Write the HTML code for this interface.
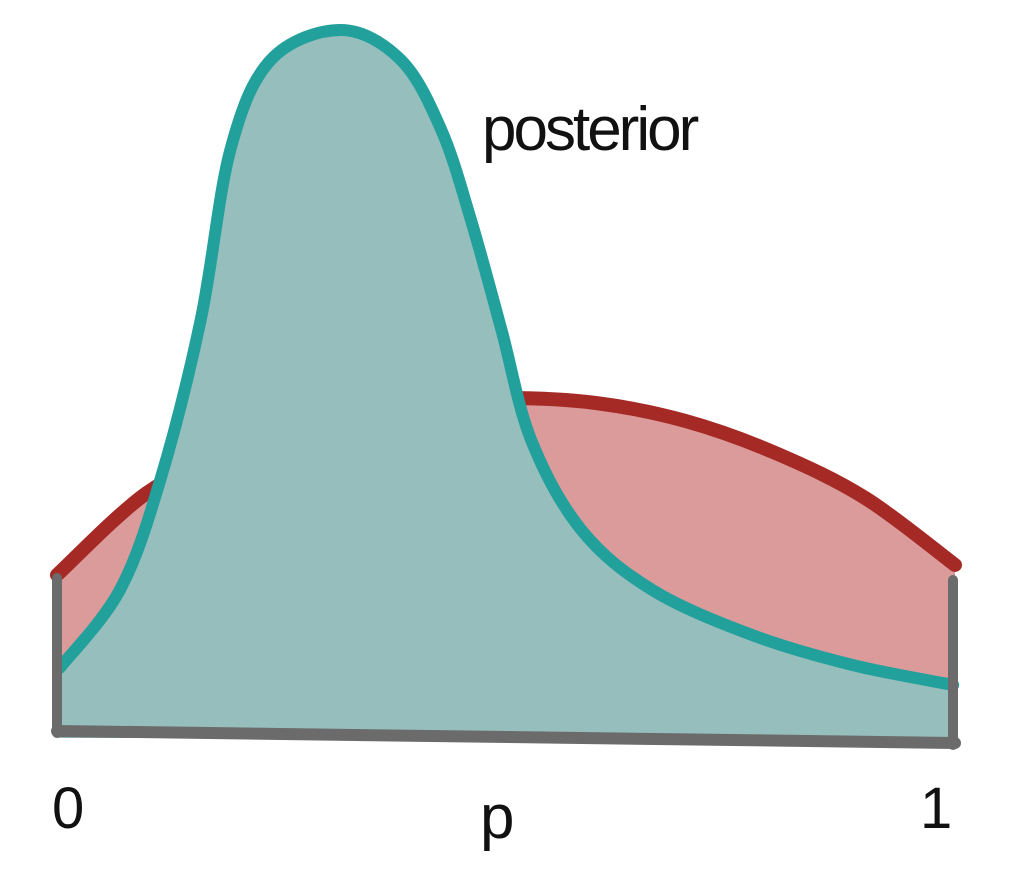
<!DOCTYPE html>
<html><head><meta charset="utf-8">
<style>
html,body{margin:0;padding:0;background:#fff;}
svg{display:block;}
text{font-family:"Liberation Sans",sans-serif;fill:#111;}
</style></head>
<body>
<svg id="chart" width="1028" height="870" viewBox="0 0 1028 870">
<g id="prior-layer"></g>
<g id="post-layer"></g>
<g id="axis-layer">
<line x1="57" y1="578" x2="57" y2="733" stroke="#6b6b6b" stroke-width="10" stroke-linecap="round"/>
<line x1="953" y1="580" x2="953" y2="745" stroke="#6b6b6b" stroke-width="10" stroke-linecap="round"/>
<line x1="57" y1="731" x2="955" y2="743" stroke="#6b6b6b" stroke-width="12" stroke-linecap="round"/>
</g>
<text x="52" y="828" font-size="58">0</text>
<text x="480" y="838" font-size="62">p</text>
<text x="920" y="828" font-size="58">1</text>
<text x="482" y="150" font-size="62" letter-spacing="-3">posterior</text>
</svg>
<script>
const priorP = [0,0.1,0.2,0.3,0.4,0.5,0.6,0.7,0.8,0.9,1.0];
const priorD = [1.58,2.4,2.85,3.15,3.3,3.35,3.3,3.12,2.8,2.35,1.68];
const postP = [0.003,0.07,0.115,0.16,0.193,0.238,0.316,0.383,0.428,0.461,0.495,0.528,0.584,0.663,0.774,0.886,0.998];
const postD = [0.65,1.43,2.53,4.13,5.83,6.73,7.03,6.73,6.03,5.13,4.03,2.93,2.03,1.43,0.98,0.68,0.48];

const X0=57, X1=955, Y0=733, K=100;
function xs(p){return X0+p*(X1-X0);}
function ys(d){return Y0-d*K;}
function smooth(pts){
  let s='M'+pts[0][0]+','+pts[0][1];
  for(let i=0;i<pts.length-1;i++){
    const p0=pts[Math.max(0,i-1)],p1=pts[i],p2=pts[i+1],p3=pts[Math.min(pts.length-1,i+2)];
    const c1=[p1[0]+(p2[0]-p0[0])/6,p1[1]+(p2[1]-p0[1])/6];
    const c2=[p2[0]-(p3[0]-p1[0])/6,p2[1]-(p3[1]-p1[1])/6];
    s+=' C'+c1[0]+','+c1[1]+' '+c2[0]+','+c2[1]+' '+p2[0]+','+p2[1];
  }
  return s;
}
const NS='http://www.w3.org/2000/svg';
function draw(layer,P,D,fill,stroke,sw,name){
  const pts=P.map((p,i)=>[xs(p),ys(D[i])]);
  const line=smooth(pts);
  const area=document.createElementNS(NS,'path');
  area.setAttribute('d',line+' L'+pts[pts.length-1][0]+','+(Y0+5)+' L'+pts[0][0]+','+(Y0+5)+' Z');
  area.setAttribute('fill',fill);
  
  
  layer.appendChild(area);
  const l=document.createElementNS(NS,'path');
  l.setAttribute('d',line);
  l.setAttribute('fill','none');
  l.setAttribute('stroke',stroke);
  l.setAttribute('stroke-width',sw);
  l.setAttribute('stroke-linecap','round');
  l.setAttribute('stroke-linejoin','round');
  
  
  layer.appendChild(l);
}
draw(document.getElementById('prior-layer'),priorP,priorD,'#db9b9b','#a52a25',14,'prior');
draw(document.getElementById('post-layer'),postP,postD,'#96bebd','#22a09c',12,'posterior');
</script>
</body></html>
